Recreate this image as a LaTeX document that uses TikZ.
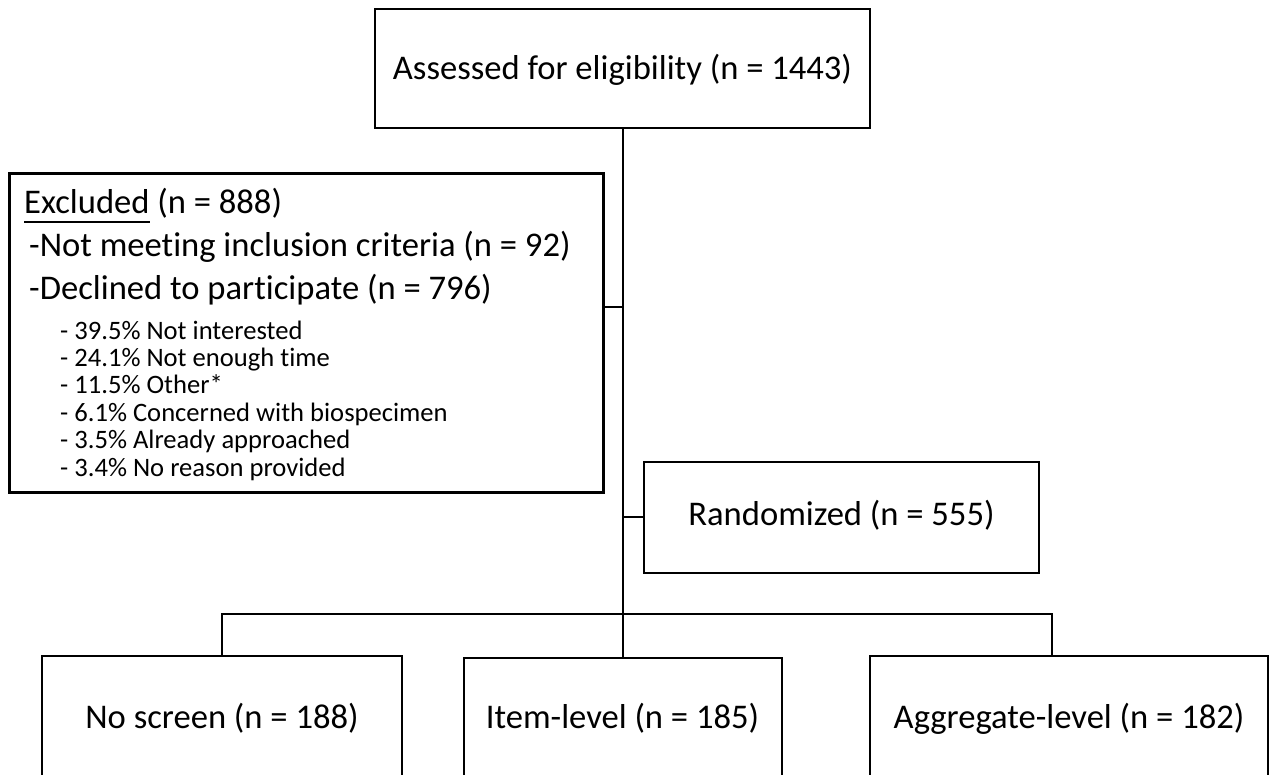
\documentclass[tikz,border=0pt]{standalone}
\usepackage{fontspec}
\setmainfont{Carlito}[Ligatures=NoCommon]
\newcommand\bigf{\fontsize{34.6}{41}\selectfont}
\newcommand\smallf{\fontsize{26.6}{27}\selectfont}
\newcommand\myul[1]{\setbox0\hbox{#1}\rlap{\rule[-9pt]{\wd0}{2pt}}\box0\relax}
\begin{document}
\begin{tikzpicture}[x=1pt,y=-1pt,
  box/.style={draw=black, line width=2pt, rectangle, inner sep=0pt, align=center,
              font=\bigf, text height=22pt, text depth=0pt},
  conn/.style={draw=black, line width=2pt},
  txt/.style={anchor=base west, inner sep=0pt}]
\useasboundingbox (0,0) rectangle (1272,775);
\fill[white] (0,0) rectangle (1272,775);

\node[box, minimum width=495pt, minimum height=119pt] (top) at (622.5,68.5) {Assessed for eligibility (n = 1443)};

\node[draw=black, line width=3pt, rectangle, inner sep=0pt, minimum width=594pt, minimum height=318pt] (excl) at (306,333) {};
\node[txt, font=\bigf] (exh) at (24,214) {\myul{Excluded} (n = 888)};
\node[txt, font=\bigf] (ex1) at (29,257) {-Not meeting inclusion criteria (n = 92)};
\node[txt, font=\bigf] (ex2) at (29,300) {-Declined to participate (n = 796)};
\node[txt, font=\smallf] (s1) at (60,340) {- 39.5\% Not interested};
\node[txt, font=\smallf] (s2) at (60,367) {- 24.1\% Not enough time};
\node[txt, font=\smallf] (s3) at (60,394) {- 11.5\% Other*};
\node[txt, font=\smallf] (s4) at (60,422) {- 6.1\% Concerned with biospecimen};
\node[txt, font=\smallf] (s5) at (60,449) {- 3.5\% Already approached};
\node[txt, font=\smallf] (s6) at (60,476) {- 3.4\% No reason provided};

\node[box, text depth=6pt, minimum width=395pt, minimum height=111pt] (rand) at (841.5,517.5) {Randomized (n = 555)};

\node[box, minimum width=360pt, minimum height=122pt] (b1) at (222,717) {No screen (n = 188)};
\node[box, text depth=6pt, minimum width=318pt, minimum height=124pt] (b2) at (622.5,720) {Item-level (n = 185)};
\node[box, minimum width=398pt, minimum height=122pt] (b3) at (1069,717) {Aggregate-level (n = 182)};

\coordinate (j1) at (623,307);
\coordinate (j2) at (623,517);
\coordinate (br) at (623,614);
\coordinate (d3) at (1052,614);

\draw[conn] (top.south) -- (top.south |- b2.north);
\draw[conn] (j1) -- (j1 -| excl.east);
\draw[conn] (j2) -- (j2 -| rand.west);
\draw[conn] (b1.north) -- (b1.north |- br) -- (d3) -- (d3 |- b3.north);
\end{tikzpicture}
\end{document}
